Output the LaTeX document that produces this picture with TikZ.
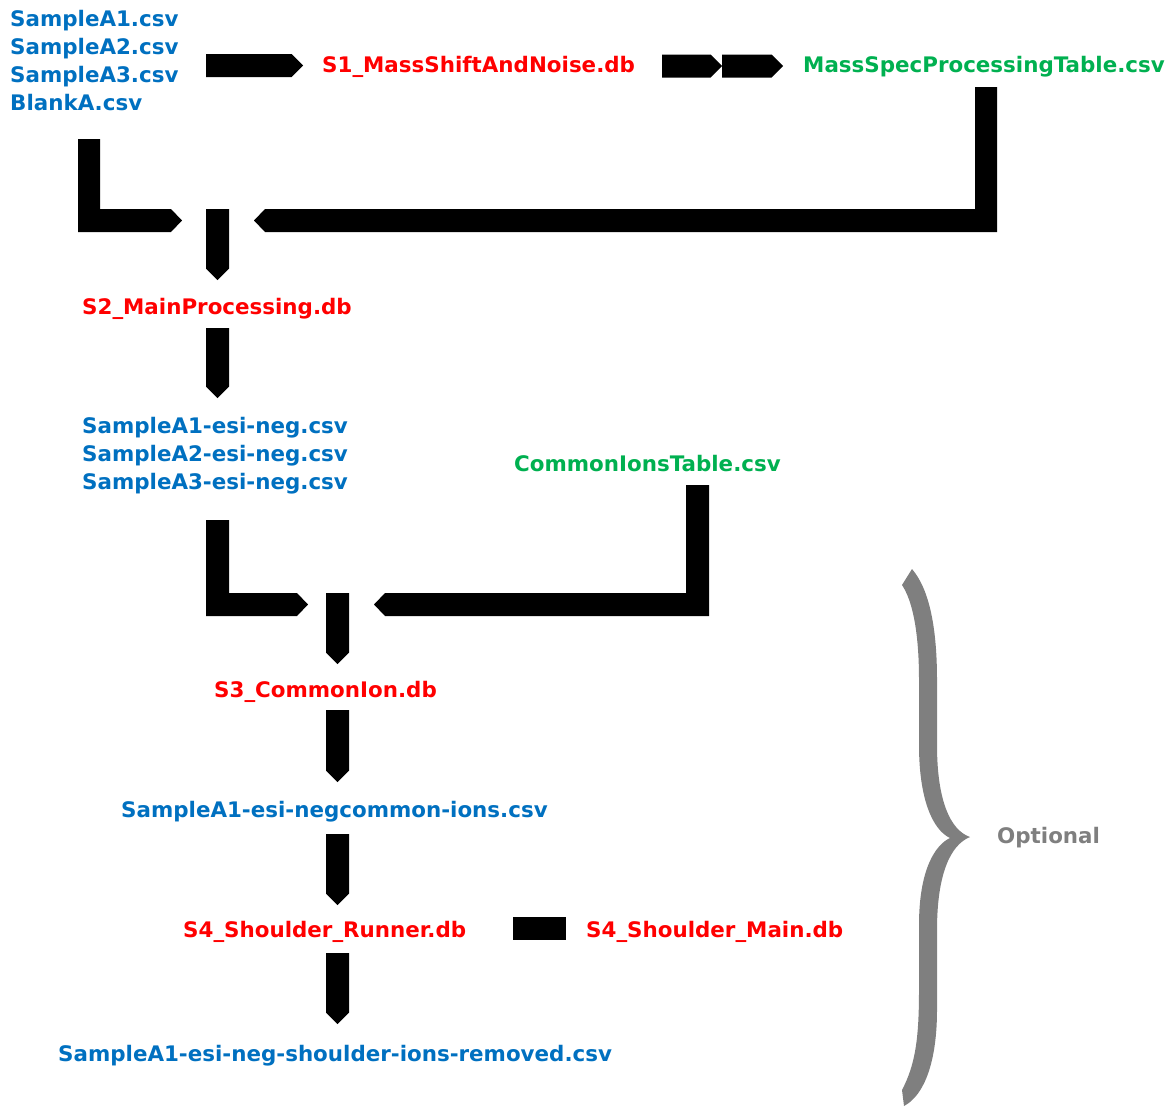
\documentclass[tikz,border=0pt]{standalone}
\usepackage{fontspec}
\setmainfont{DejaVu Sans}
\usetikzlibrary{shapes.arrows}
\definecolor{fileblue}{HTML}{0070C0}
\definecolor{dbred}{HTML}{FF0000}
\definecolor{tablegreen}{HTML}{00B050}
\definecolor{braceg}{HTML}{7F7F7F}
\tikzset{
  txt/.style={inner sep=0pt,font=\bfseries\fontsize{21.4}{28}\selectfont,align=left},
  csvfile/.style={txt,text=fileblue},
  dbfile/.style={txt,text=dbred},
  csvtable/.style={txt,text=tablegreen},
  pipe/.style={single arrow,single arrow head extend=0pt,single arrow tip angle=90,
    fill=black,inner sep=0pt,minimum width=23pt,anchor=tail},
  pipedown/.style={pipe,rotate=-90}
}

\begin{document}
\begin{tikzpicture}[x=1pt,y=-1pt]
  \useasboundingbox (0,0) rectangle (1172,1109);
  % inputs and first step
  \node[csvfile,anchor=north west] (raw) at (10,9.6)
    {SampleA1.csv\\SampleA2.csv\\SampleA3.csv\\BlankA.csv};
  \node[dbfile,anchor=base west] (s1) at (322,72.6) {S1\_MassShiftAndNoise.db};
  \node[csvtable,anchor=base west] (mstable) at (803,72.6) {MassSpecProcessingTable.csv};
  \node[pipe,minimum height=97pt] (p1) at (206,65.5) {};
  \node[pipe,minimum height=60pt] (p2) at (662,66) {};
  \node[pipe,minimum height=61pt] (p3) at (722,66) {};

  % second step
  \fill (78,139) -- (100,139) -- (100,209) -- (171,209) -- (182,220.5)
    -- (171,232) -- (78,232) -- cycle;
  \fill (975,87) -- (997,87) -- (997,232) -- (265,232) -- (254,220.5)
    -- (265,209) -- (975,209) -- cycle;
  \node[pipedown,minimum height=71pt] (p4) at (217.5,209) {};
  \node[dbfile,anchor=base west] (s2) at (82,314.6) {S2\_MainProcessing.db};
  \node[pipedown,minimum height=70pt] (p5) at (217.5,328) {};
  \node[csvfile,anchor=north west] (neg) at (82,416.6)
    {SampleA1-esi-neg.csv\\SampleA2-esi-neg.csv\\SampleA3-esi-neg.csv};
  \node[csvtable,anchor=base west] (iontable) at (514,471.6) {CommonIonsTable.csv};

  % third step
  \fill (206,520) -- (229,520) -- (229,593) -- (297,593) -- (308,604.5)
    -- (297,616) -- (206,616) -- cycle;
  \fill (686,485) -- (709,485) -- (709,616) -- (385,616) -- (374,604.5)
    -- (385,593) -- (686,593) -- cycle;
  \node[pipedown,minimum height=71pt] (p6) at (337.5,593) {};
  \node[dbfile,anchor=base west] (s3) at (214,697.6) {S3\_CommonIon.db};
  \node[pipedown,minimum height=72pt] (p7) at (337.5,710) {};
  \node[csvfile,anchor=base west] (common) at (121,817.6) {SampleA1-esi-negcommon-ions.csv};
  \node[pipedown,minimum height=71pt] (p8) at (337.5,834) {};

  % shoulder step
  \node[dbfile,anchor=base west] (runner) at (183,937.6) {S4\_Shoulder\_Runner.db};
  \node[fill=black,inner sep=0pt,minimum width=53pt,minimum height=23pt] (link) at (539.5,928.5) {};
  \node[dbfile,anchor=base west] (main) at (586,937.6) {S4\_Shoulder\_Main.db};
  \node[pipedown,minimum height=71pt] (p9) at (337.5,953) {};
  \node[csvfile,anchor=base west] (removed) at (58,1061.6)
    {SampleA1-esi-neg-shoulder-ions-removed.csv};

  % brace
  \fill[braceg] (912,569) .. controls (930,590) and (937,630) .. (937,680)
    -- (937,745) .. controls (937,800) and (950,830) .. (970,837)
    .. controls (950,845) and (937,875) .. (937,930)
    -- (937,1010) .. controls (937,1060) and (925,1095) .. (904,1106)
    -- (902,1090) .. controls (915,1065) and (919,1040) .. (919,990)
    -- (919,925) .. controls (919,870) and (935,845) .. (950,838)
    .. controls (933,830) and (919,800) .. (919,745)
    -- (919,680) .. controls (919,630) and (912,600) .. (902,585) -- cycle;
  \node[txt,text=braceg,anchor=base west] (optional) at (997,843.6) {Optional};
\end{tikzpicture}
\end{document}
